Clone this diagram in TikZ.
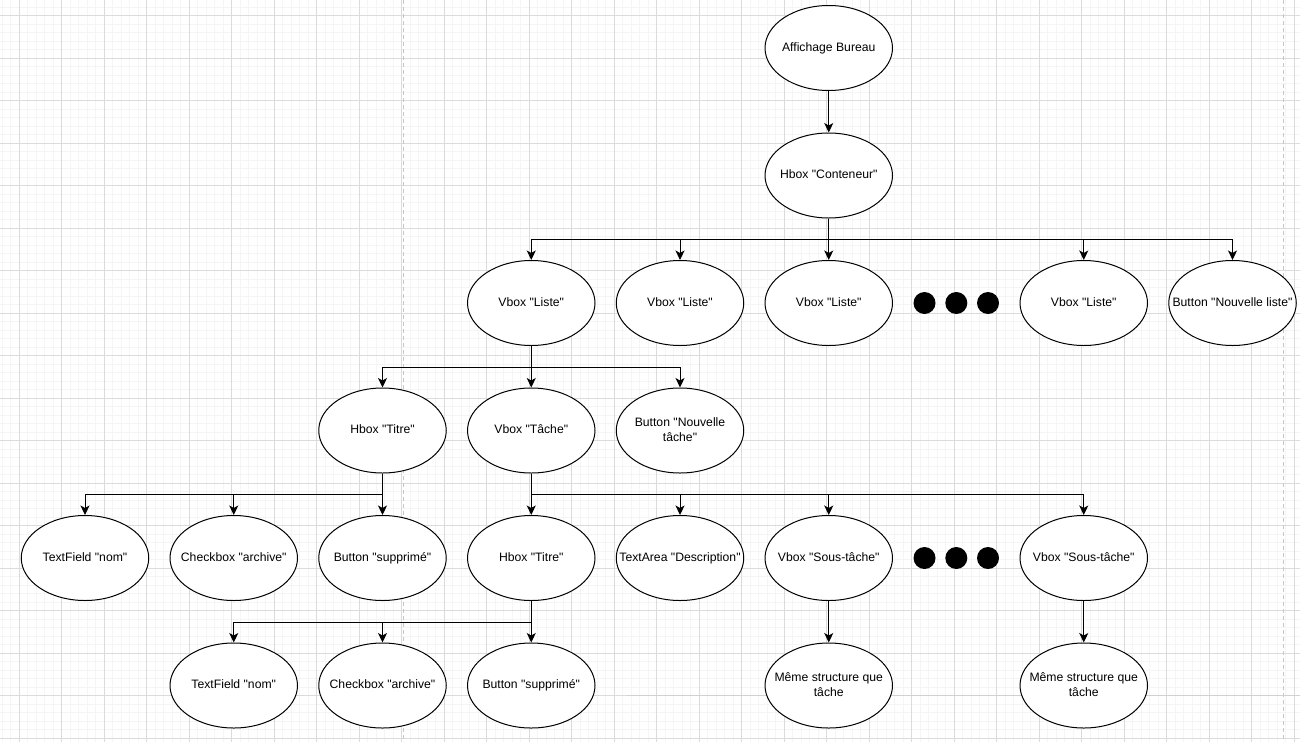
\documentclass[tikz,border=0pt]{standalone}
\usepackage{fontspec}
\setmainfont{Liberation Sans}[Ligatures=TeXOff]
\usetikzlibrary{shapes.geometric,arrows.meta}

% text centred on the node without widening the ellipse
\newcommand{\etext}[1]{\makebox[0pt][c]{\begin{tabular}{@{}c@{}}#1\end{tabular}}}

\tikzset{
  minorgrid/.style={draw=black!4, line width=0.7pt},
  majorgrid/.style={draw=black!14, line width=0.9pt},
  pagebreak/.style={draw=black!22, line width=0.9pt, dash pattern=on 4pt off 3pt},
  pageedge/.style={draw=black!18, line width=1pt},
  ell/.style={ellipse, draw=black, fill=white, line width=1pt,
    minimum width=127.5pt, minimum height=85pt, inner sep=0pt,
    font=\fontsize{12.2}{15}\selectfont},
  dot/.style={circle, fill=black, minimum size=22pt, inner sep=0pt},
  arr/.style={draw=black, line width=1pt,
    -{Stealth[length=9.5pt,width=9pt,inset=2.5pt]}},
  elbow/.style={to path={-- ++(0,21.25) -| (\tikztotarget)}},
}

\begin{document}
\begin{tikzpicture}[x=1pt,y=-1pt]
\useasboundingbox (0,0) rectangle (1300,742);
\fill[white] (0,0) rectangle (1300,742);

% background grid
\foreach \k in {0,...,152} \draw[minorgrid] ({2.3+8.5*\k},0) -- ({2.3+8.5*\k},742);
\foreach \k in {0,...,86} \draw[minorgrid] (0,{7.2+8.5*\k}) -- (1300,{7.2+8.5*\k});
\foreach \k in {0,...,30} \draw[majorgrid] ({19.3+42.5*\k},0) -- ({19.3+42.5*\k},742);
\foreach \k in {0,...,17} \draw[majorgrid] (0,{15.7+42.5*\k}) -- (1300,{15.7+42.5*\k});
\draw[pagebreak] (403,0) -- (403,742);
\draw[pagebreak] (1283,0) -- (1283,742);
\draw[pageedge] (627,695.7) -- (1300,695.7);

% row 0 and 1
\node[ell] (aff)  at (828.75,48)    {\etext{Affichage Bureau}};
\node[ell] (cont) at (828.75,175.5) {\etext{Hbox "Conteneur"}};

% row 2
\node[ell] (l1) at (531.25,303)  {\etext{Vbox "Liste"}};
\node[ell] (l2) at (680,303)     {\etext{Vbox "Liste"}};
\node[ell] (l3) at (828.75,303)  {\etext{Vbox "Liste"}};
\node[dot] (da1) at (924.5,303) {};
\node[dot] (da2) at (956.3,303) {};
\node[dot] (da3) at (988,303) {};
\node[ell] (l4) at (1083.75,303) {\etext{Vbox "Liste"}};
\node[ell] (nl) at (1232.5,303)  {\etext{Button "Nouvelle liste"}};

% row 3
\node[ell] (t1)   at (382.5,430.5)  {\etext{Hbox "Titre"}};
\node[ell] (task) at (531.25,430.5) {\etext{Vbox "Tâche"}};
\node[ell] (nt)   at (680,430.5)    {\etext{Button "Nouvelle\\tâche"}};

% row 4
\node[ell] (nom1) at (85,558)      {\etext{TextField "nom"}};
\node[ell] (arc1) at (233.75,558)  {\etext{Checkbox "archive"}};
\node[ell] (sup1) at (382.5,558)   {\etext{Button "supprimé"}};
\node[ell] (t2)   at (531.25,558)  {\etext{Hbox "Titre"}};
\node[ell] (desc) at (680,558)     {\etext{TextArea "Description"}};
\node[ell] (st1)  at (828.75,558)  {\etext{Vbox "Sous-tâche"}};
\node[dot] (db1) at (924.5,558) {};
\node[dot] (db2) at (956.3,558) {};
\node[dot] (db3) at (988,558) {};
\node[ell] (st2)  at (1083.75,558) {\etext{Vbox "Sous-tâche"}};

% row 5
\node[ell] (nom2) at (233.75,685.5)  {\etext{TextField "nom"}};
\node[ell] (arc2) at (382.5,685.5)   {\etext{Checkbox "archive"}};
\node[ell] (sup2) at (531.25,685.5)  {\etext{Button "supprimé"}};
\node[ell] (same1) at (828.75,685.5) {\etext{Même structure que\\tâche}};
\node[ell] (same2) at (1083.75,685.5){\etext{Même structure que\\tâche}};

% connectors
\draw[arr] (aff) -- (cont);
\foreach \c in {l1,l2,l3,l4,nl} \draw[arr] (cont.south) to[elbow] (\c.north);
\foreach \c in {t1,task,nt} \draw[arr] (l1.south) to[elbow] (\c.north);
\foreach \c in {nom1,arc1,sup1} \draw[arr] (t1.south) to[elbow] (\c.north);
\foreach \c in {t2,desc,st1,st2} \draw[arr] (task.south) to[elbow] (\c.north);
\foreach \c in {nom2,arc2,sup2} \draw[arr] (t2.south) to[elbow] (\c.north);
\draw[arr] (st1) -- (same1);
\draw[arr] (st2) -- (same2);
\end{tikzpicture}
\end{document}
